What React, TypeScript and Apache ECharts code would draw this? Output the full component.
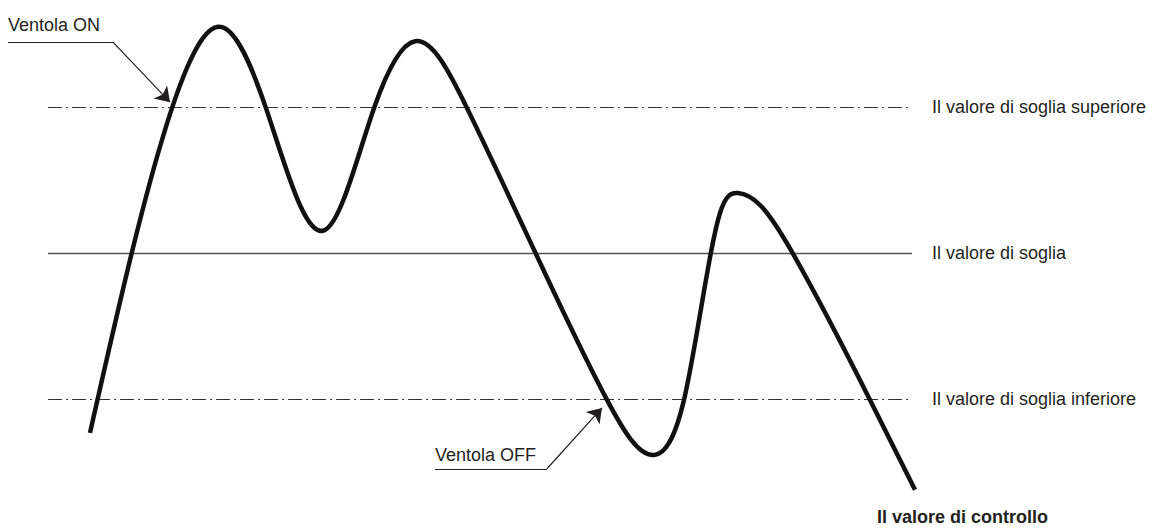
import React, { useEffect, useRef } from "react";
import * as echarts from "echarts";

// Control value curve (time t, value v; threshold = 0, upper = +1, lower = -1)
const curveT = [4.86, 9.72, 14.35, 20.14, 25.23, 32.06, 37.73, 42.48, 48.5, 56.37, 64.7, 70.25, 73.61, 76.74, 77.78, 79.86, 82.41, 86.11, 95.14, 100.35];
const curveV = [-1.233, 0.007, 0.993, 1.548, 0.993, 0.158, 0.993, 1.452, 0.993, 0.007, -1.007, -1.384, -1.007, 0.007, 0.274, 0.411, 0.329, 0.007, -1.007, -1.623];

const thresholdNames = ["Il valore di soglia superiore", "Il valore di soglia", "Il valore di soglia inferiore"];
const thresholdValues = [1, 0, -1];

// Annotation leaders: [start, corner, arrow tip] in data units
const onLeader = [[-4.63, 1.445], [7.52, 1.445], [14.12, 1.034]];
const offLeader = [[44.79, -1.479], [57.75, -1.479], [64.12, -1.062]];
const annotationTexts = ["Ventola ON", "Ventola OFF"];
const axisName = "Il valore di controllo";

const INK = "#231f20";
const FONT = "'Liberation Sans', Arial, Helvetica, sans-serif";

// Natural cubic spline through pixel points, returned as an SVG path of bezier segments
function splinePath(pts: number[][]): string {
  const n = pts.length;
  const x = pts.map((p) => p[0]);
  const y = pts.map((p) => p[1]);
  const h: number[] = [];
  for (let i = 0; i < n - 1; i++) h.push(x[i + 1] - x[i]);
  const a = new Array(n).fill(0);
  const b = new Array(n).fill(1);
  const c = new Array(n).fill(0);
  const r = new Array(n).fill(0);
  for (let i = 1; i < n - 1; i++) {
    a[i] = h[i - 1];
    b[i] = 2 * (h[i - 1] + h[i]);
    c[i] = h[i];
    r[i] = 6 * ((y[i + 1] - y[i]) / h[i] - (y[i] - y[i - 1]) / h[i - 1]);
  }
  for (let i = 1; i < n; i++) {
    const w = a[i] / b[i - 1];
    b[i] -= w * c[i - 1];
    r[i] -= w * r[i - 1];
  }
  const M = new Array(n).fill(0);
  M[n - 1] = r[n - 1] / b[n - 1];
  for (let i = n - 2; i >= 0; i--) M[i] = (r[i] - c[i] * M[i + 1]) / b[i];
  let d = `M${x[0]},${y[0]}`;
  for (let i = 0; i < n - 1; i++) {
    const hi = h[i];
    const s = (y[i + 1] - y[i]) / hi;
    const m0 = s - (hi * (2 * M[i] + M[i + 1])) / 6;
    const m1 = s + (hi * (M[i] + 2 * M[i + 1])) / 6;
    d += ` C${x[i] + hi / 3},${y[i] + (m0 * hi) / 3} ${x[i + 1] - hi / 3},${y[i + 1] - (m1 * hi) / 3} ${x[i + 1]},${y[i + 1]}`;
  }
  return d;
}

export default function App() {
  const ref = useRef<HTMLDivElement>(null);
  useEffect(() => {
    document.body.style.margin = "0";
    const chart = echarts.init(ref.current!, undefined, { renderer: "svg" });
    const curve = curveT.map((t, i) => [t, curveV[i]]);
    const dashed = [14, 4, 2, 4];
    chart.setOption({
      animation: false,
      backgroundColor: "#ffffff",
      grid: { left: 48, right: 251, top: 5, bottom: 31 },
      xAxis: { type: "value", min: 0, max: 100, show: false },
      yAxis: { type: "value", min: -1.7, max: 1.7, show: false },
      series: [
        {
          type: "line",
          data: [],
          showSymbol: false,
          markLine: {
            silent: true,
            symbol: "none",
            data: thresholdValues.map((v, i) => ({
              yAxis: v,
              name: thresholdNames[i],
              lineStyle: {
                color: v === 0 ? "#555" : "#333",
                width: v === 0 ? 1.3 : 1,
                type: v === 0 ? "solid" : dashed,
              },
            })),
            label: {
              show: true,
              position: "end",
              distance: 20,
              formatter: "{b}",
              color: INK,
              fontSize: 18,
              fontFamily: FONT,
            },
          },
        },
        {
          type: "custom",
          coordinateSystem: "cartesian2d",
          clip: false,
          silent: true,
          z: 5,
          data: [[curveT[0], curveV[0]]],
          renderItem: (_params: any, api: any) => {
            const pts = curve.map((p) => api.coord(p));
            return {
              type: "path",
              shape: { pathData: splinePath(pts) },
              style: { fill: "none", stroke: "#111", lineWidth: 4.5, lineJoin: "round" },
            };
          },
        },
        {
          type: "lines",
          coordinateSystem: "cartesian2d",
          clip: false,
          symbol: "none",
          lineStyle: { color: INK, width: 1.2, opacity: 1 },
          data: [
            { coords: [onLeader[0], onLeader[1]] },
            { coords: [offLeader[0], offLeader[1]] },
          ],
        },
        {
          type: "lines",
          coordinateSystem: "cartesian2d",
          clip: false,
          symbol: ["none", "arrow"],
          symbolSize: [10, 14],
          lineStyle: { color: INK, width: 1.2, opacity: 1 },
          itemStyle: { color: INK },
          data: [
            { coords: [onLeader[1], onLeader[2]] },
            { coords: [offLeader[1], offLeader[2]] },
          ],
        },
      ],
      graphic: [
        {
          type: "text",
          left: 8,
          top: 16,
          style: { text: annotationTexts[0], fill: INK, font: `18px ${FONT}` },
        },
        {
          type: "text",
          left: 435,
          top: 446,
          style: { text: annotationTexts[1], fill: INK, font: `18px ${FONT}` },
        },
        {
          type: "text",
          left: 877,
          top: 508,
          style: { text: axisName, fill: INK, font: `bold 18px ${FONT}` },
        },
      ],
    });
    return () => chart.dispose();
  }, []);
  return <div ref={ref} style={{ width: 1163, height: 532 }} />;
}
